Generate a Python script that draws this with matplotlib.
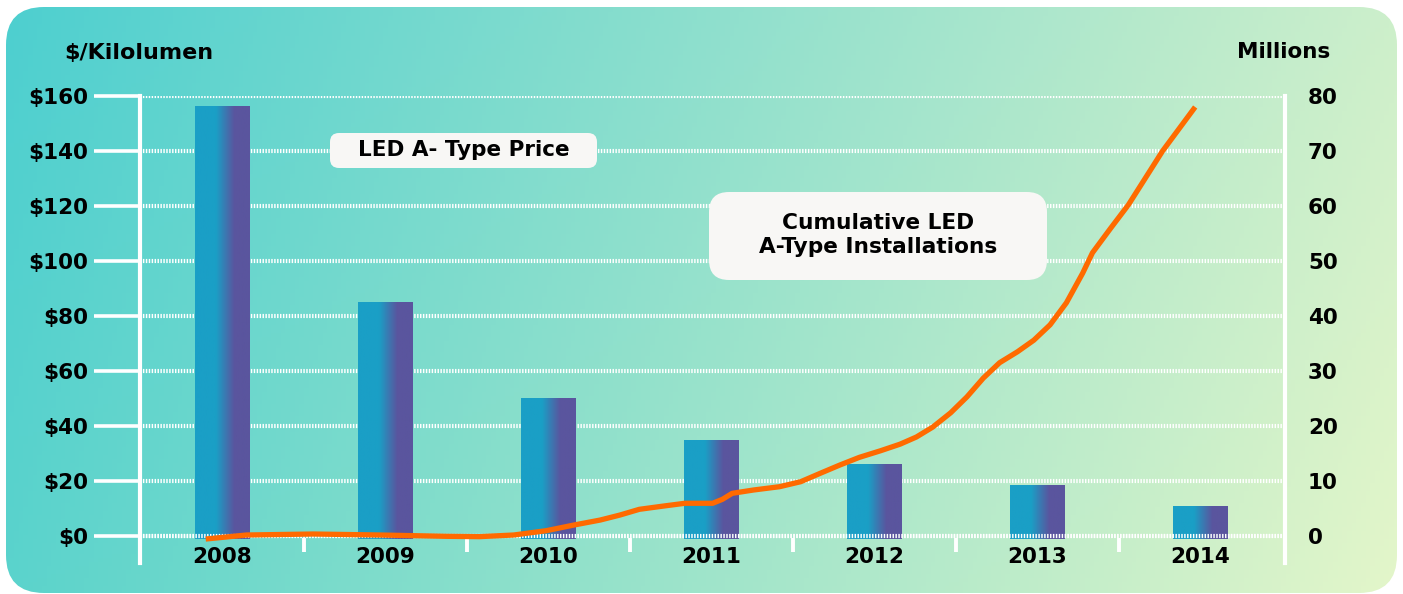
import numpy as np
import matplotlib.pyplot as plt
from matplotlib.colors import LinearSegmentedColormap
from matplotlib.patches import FancyBboxPatch

plt.rcParams['font.family'] = ['DejaVu Sans']
plt.rcParams['font.weight'] = 'bold'

# data
years = ['2008', '2009', '2010', '2011', '2012', '2013', '2014']
price = [156.4, 85.1, 50.2, 34.9, 26.2, 18.5, 10.9]   # $/kilolumen
price_ticks = [0, 20, 40, 60, 80, 100, 120, 140, 160]
price_labels = ['$0', '$20', '$40', '$60', '$80', '$100', '$120', '$140', '$160']
mill_ticks = [0, 10, 20, 30, 40, 50, 60, 70, 80]

# cumulative installations (millions), sampled along the curve
inst_year = [2007.90, 2008.15, 2008.56, 2008.97, 2009.38, 2009.58, 2009.79,
             2009.99, 2010.16, 2010.32, 2010.44, 2010.56, 2010.71, 2010.84,
             2011.01, 2011.07, 2011.13, 2011.26, 2011.42, 2011.55, 2011.67,
             2011.79, 2011.91, 2012.04, 2012.16, 2012.26, 2012.36, 2012.47,
             2012.57, 2012.67, 2012.77, 2012.88, 2012.98, 2013.08, 2013.18,
             2013.28, 2013.34, 2013.45, 2013.56, 2013.77, 2013.97]
inst_val = [-0.55, 0.18, 0.36, 0.18, -0.06, -0.12, 0.18,
            0.97, 2.0, 2.9, 3.8, 4.85, 5.45, 5.95,
            5.95, 6.67, 7.76, 8.36, 8.96, 9.87, 11.4,
            12.9, 14.3, 15.5, 16.7, 18.0, 19.8, 22.4,
            25.3, 28.7, 31.5, 33.5, 35.6, 38.4, 42.4,
            47.8, 51.5, 55.9, 60.2, 70.0, 78.0]

W, H = 1403, 594
fig = plt.figure(figsize=(W / 100, H / 100), dpi=100)

# background card with soft diagonal gradient
bg = fig.add_axes([0, 0, 1, 1])
bg.set_xlim(0, W)
bg.set_ylim(H, 0)
bg.axis('off')
gx, gy = np.meshgrid(np.linspace(0, 1, 300), np.linspace(0, 1, 150))
gx, gy = gx[..., None], gy[..., None]
tl = np.array([0x4d, 0xcf, 0xd0]) / 255
tr = np.array([0xcd, 0xef, 0xcb]) / 255
bl = np.array([0x5a, 0xd3, 0xcc]) / 255
br = np.array([0xe4, 0xf6, 0xc9]) / 255
grad_img = tl * (1 - gx) * (1 - gy) + tr * gx * (1 - gy) + bl * (1 - gx) * gy + br * gx * gy
card = FancyBboxPatch((6, 7), W - 12, 586, boxstyle='round,pad=0,rounding_size=38',
                      fc='none', ec='none')
bg.add_patch(card)
bgim = bg.imshow(grad_img, extent=(0, W, H, 0), aspect='auto')
bgim.set_clip_path(card)

# main axes (left: price)
ax = fig.add_axes([140 / W, 1 - 563 / H, (1285 - 140) / W, (563 - 96) / H])
ax.set_facecolor('none')
x = np.arange(len(years))

bar_cmap = LinearSegmentedColormap.from_list(
    'ledbar', [(0, '#1a9fc6'), (0.38, '#1a9fc6'), (0.72, '#5a559e'), (1, '#5a559e')])
bars = ax.bar(x, np.array(price) + 1, bottom=-1, width=0.337, color='none', zorder=2)
ramp = np.linspace(0, 1, 64).reshape(1, -1)
for b in bars:
    ax.imshow(ramp, cmap=bar_cmap, aspect='auto', zorder=2,
              extent=(b.get_x(), b.get_x() + b.get_width(), b.get_y(), b.get_y() + b.get_height()))

# checkered-looking white gridlines
grid_style = dict(color='white', lw=3.0, ls=(0, (0.35, 0.35)))
ax.set_yticks(price_ticks)
ax.set_yticklabels(price_labels)
ax.yaxis.grid(True, **grid_style)
ax.set_axisbelow(True)
ax.axhline(0, zorder=3, **grid_style)

# small separators between years
ax.vlines(x[:-1] + 0.5, -0.6, -5.8, color='white', lw=2.8, zorder=3)
for i, yr in enumerate(years):
    ax.text(i, -7.64, yr, ha='center', va='center', fontsize=15.5, fontweight='bold')

for s in ['top', 'bottom', 'right']:
    ax.spines[s].set_visible(False)
ax.spines['left'].set_color('white')
ax.spines['left'].set_linewidth(3)
ax.spines['left'].set_bounds(-9.82, 160)
ax.set_xticks([])
ax.tick_params(axis='y', length=33, width=2.6, color='white', pad=4.5, labelsize=15.5)

# right axis: installations
ax2 = ax.twinx()
ax2.set_facecolor('none')
ax2.plot(x[0] + np.array(inst_year) - 2008, inst_val, color='#ff6a00', lw=3.8,
         solid_capstyle='butt', solid_joinstyle='round', zorder=4)
ax2.set_yticks(mill_ticks)
ax2.tick_params(axis='y', length=0, pad=16.5, labelsize=15.5)
for s in ['top', 'bottom', 'left']:
    ax2.spines[s].set_visible(False)
ax2.spines['right'].set_color('white')
ax2.spines['right'].set_linewidth(3)
ax2.spines['right'].set_bounds(-4.91, 80)

ax.set_xlim(-0.503, 6.521)
ax.set_ylim(-9.82, 160)
ax2.set_ylim(-4.91, 80)

# overlay: axis titles and callout boxes
ov = fig.add_axes([0, 0, 1, 1])
ov.set_xlim(0, W)
ov.set_ylim(H, 0)
ov.axis('off')
ov.text(64, 53, '$/Kilolumen', ha='left', va='center', fontsize=16, fontweight='bold')
ov.text(1237, 52, 'Millions', ha='left', va='center', fontsize=15.5, fontweight='bold')

ov.add_patch(FancyBboxPatch((330, 133), 267, 35, boxstyle='round,pad=0,rounding_size=9',
                            fc='#f8f7f5', ec='none'))
ov.text(463.5, 150.5, 'LED A- Type Price', ha='center', va='center', fontsize=15.5,
        fontweight='bold')
ov.add_patch(FancyBboxPatch((709, 192), 338, 88, boxstyle='round,pad=0,rounding_size=20',
                            fc='#f8f7f5', ec='none'))
ov.text(878, 235, 'Cumulative LED\nA-Type Installations', ha='center', va='center',
        fontsize=15.6, fontweight='bold', linespacing=1.2)

fig.savefig('out.png', dpi=100)
